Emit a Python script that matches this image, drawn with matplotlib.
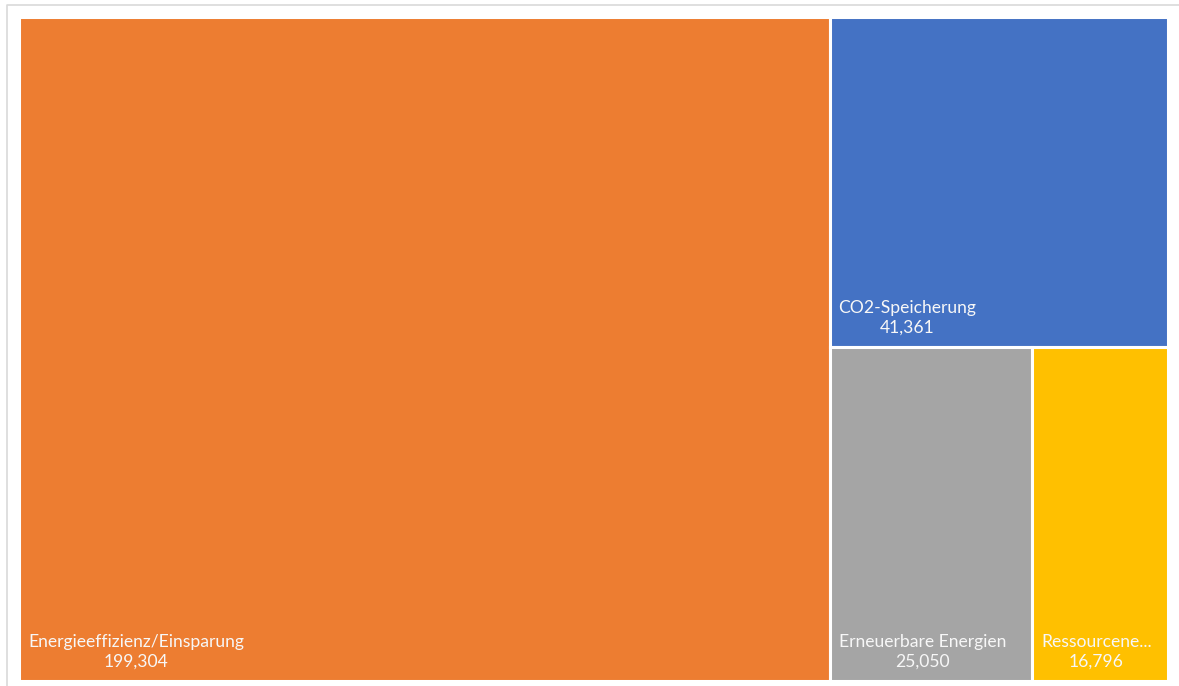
import matplotlib.pyplot as plt
from matplotlib.patches import Rectangle
from matplotlib.lines import Line2D

categories = ['Energieeffizienz/Einsparung', 'CO2-Speicherung', 'Erneuerbare Energien', 'Ressourcene...']
values = [199304, 41361, 25050, 16796]
value_labels = ['199,304', '41,361', '25,050', '16,796']
colors = ['#ED7D31', '#4472C4', '#A5A5A5', '#FFC000']

W, H = 1179, 686


def slice_layout(vals, x, y, w, h, vertical=True):
    # alternate slicing: first item takes a strip, rest go into the remainder
    rects = []
    total = float(sum(vals))
    for i, v in enumerate(vals):
        if i == len(vals) - 1:
            rects.append((x, y, w, h))
            break
        frac = v / total
        if vertical:
            rects.append((x, y, w * frac, h))
            x += w * frac
            w -= w * frac
        else:
            # top strip (y measured from top)
            rects.append((x, y, w, h * frac))
            y += h * frac
            h -= h * frac
        total -= v
        vertical = not vertical
    return rects


fig = plt.figure(figsize=(W / 100, H / 100), dpi=100)
# outer chart border (only left and top visible in the crop)
bx, by = 6.5 / W, 1 - 4.5 / H
fig.lines.append(Line2D([bx, bx, 1.0], [0, by, by], transform=fig.transFigure,
                        color='#d9d9d9', linewidth=1.2))

left, top, right, bottom = 19, 17, 1168, 681
ax = fig.add_axes([left / W, 1 - bottom / H, (right - left) / W, (bottom - top) / H])
ax.set_xlim(0, right - left)
ax.set_ylim(bottom - top, 0)
ax.axis('off')

rects = slice_layout(values, 0, 0, right - left, bottom - top)
for (x, y, w, h), c, lab, vl in zip(rects, colors, categories, value_labels):
    ax.add_patch(Rectangle((x, y), w, h, facecolor=c, edgecolor='white', linewidth=2.2))
    ax.text(x + 9, y + h - 11, lab + '\n' + vl, ha='left', va='bottom',
            multialignment='center', color='#f7f7f7', fontsize=12.6,
            family='Lato', linespacing=1.3)

fig.savefig('out.png', dpi=100)
